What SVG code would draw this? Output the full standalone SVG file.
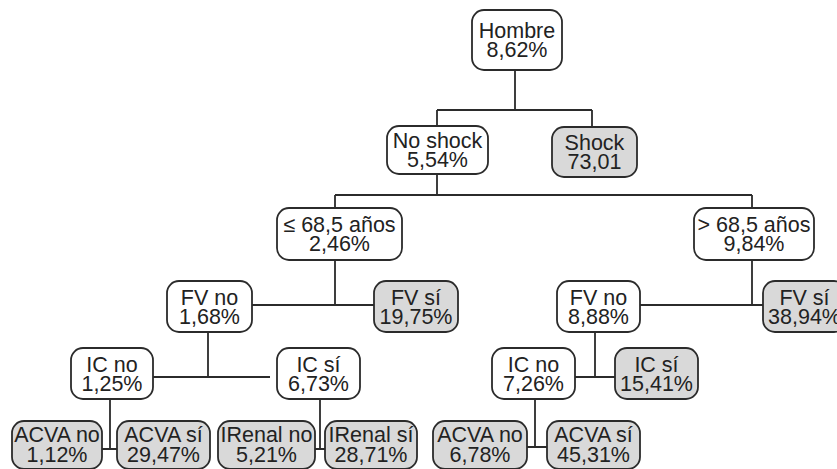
<svg xmlns="http://www.w3.org/2000/svg" width="837" height="469" viewBox="0 0 837 469">
  <style>
    .box { stroke: #2b2b2b; stroke-width: 1.8; }
    .leaf { fill: #ffffff; }
    .term { fill: #d9d9d9; }
    .lbl { font-family: "Liberation Sans", Arial, sans-serif; font-size: 21.5px; fill: #222222; text-anchor: middle; }
    .wire { fill: none; stroke: #2b2b2b; stroke-width: 1.8; }
  </style>
  <rect width="837" height="469" fill="#ffffff"/>

  <!-- tree connectors -->
  <g id="connectors" class="wire">
    <path d="M515 70 V110 M437 110 H592 M437 110 V126 M592 110 V127"/>
    <path d="M437 174 V195 M335 195 H752 M335 195 V208 M752 195 V208"/>
    <path d="M335 260 V305 M252 305 H374"/>
    <path d="M752 260 V305 M640 305 H763"/>
    <path d="M208 332 V377 M153 377 H270"/>
    <path d="M595 332 V377 M575 377 H615"/>
    <path d="M110 399 V449 M102 449 H117"/>
    <path d="M320 399 V449 M315 449 H325"/>
    <path d="M535 399 V447 M527 447 H547"/>
  </g>

  <g id="hombre">
    <rect class="box leaf" x="472" y="10" width="90" height="60" rx="12"/>
    <text class="lbl"><tspan x="517" y="38">Hombre</tspan><tspan x="517" y="57">8,62%</tspan></text>
  </g>
  <g id="no-shock">
    <rect class="box leaf" x="387" y="126" width="101" height="48" rx="12"/>
    <text class="lbl"><tspan x="437.5" y="148">No shock</tspan><tspan x="437.5" y="167">5,54%</tspan></text>
  </g>
  <g id="shock">
    <rect class="box term" x="552" y="127" width="85" height="50" rx="12"/>
    <text class="lbl"><tspan x="594.5" y="150">Shock</tspan><tspan x="594.5" y="169">73,01</tspan></text>
  </g>
  <g id="edad-menor">
    <rect class="box leaf" x="277" y="208" width="125" height="52" rx="12"/>
    <text class="lbl"><tspan x="339.5" y="232">≤ 68,5 años</tspan><tspan x="339.5" y="251">2,46%</tspan></text>
  </g>
  <g id="edad-mayor">
    <rect class="box leaf" x="694" y="208" width="120" height="52" rx="12"/>
    <text class="lbl"><tspan x="754" y="232">&gt; 68,5 años</tspan><tspan x="754" y="251">9,84%</tspan></text>
  </g>
  <g id="fv-no-a">
    <rect class="box leaf" x="167" y="281" width="85" height="51" rx="12"/>
    <text class="lbl"><tspan x="209.5" y="304.5">FV no</tspan><tspan x="209.5" y="323.5">1,68%</tspan></text>
  </g>
  <g id="fv-si-a">
    <rect class="box term" x="374" y="281" width="84" height="51" rx="12"/>
    <text class="lbl"><tspan x="416" y="304.5">FV sí</tspan><tspan x="416" y="323.5">19,75%</tspan></text>
  </g>
  <g id="fv-no-b">
    <rect class="box leaf" x="557" y="281" width="83" height="51" rx="12"/>
    <text class="lbl"><tspan x="598.5" y="304.5">FV no</tspan><tspan x="598.5" y="323.5">8,88%</tspan></text>
  </g>
  <g id="fv-si-b">
    <rect class="box term" x="763" y="281" width="83" height="51" rx="12"/>
    <text class="lbl"><tspan x="804.5" y="304.5">FV sí</tspan><tspan x="804.5" y="323.5">38,94%</tspan></text>
  </g>
  <g id="ic-no-a">
    <rect class="box leaf" x="71" y="348" width="82" height="51" rx="12"/>
    <text class="lbl"><tspan x="112" y="371.5">IC no</tspan><tspan x="112" y="390.5">1,25%</tspan></text>
  </g>
  <g id="ic-si-a">
    <rect class="box leaf" x="277" y="348" width="83" height="51" rx="12"/>
    <text class="lbl"><tspan x="318.5" y="371.5">IC sí</tspan><tspan x="318.5" y="390.5">6,73%</tspan></text>
  </g>
  <g id="ic-no-b">
    <rect class="box leaf" x="492" y="348" width="83" height="51" rx="12"/>
    <text class="lbl"><tspan x="533.5" y="371.5">IC no</tspan><tspan x="533.5" y="390.5">7,26%</tspan></text>
  </g>
  <g id="ic-si-b">
    <rect class="box term" x="615" y="348" width="83" height="51" rx="12"/>
    <text class="lbl"><tspan x="656.5" y="371.5">IC sí</tspan><tspan x="656.5" y="390.5">15,41%</tspan></text>
  </g>
  <g id="acva-no-a">
    <rect class="box term" x="12" y="421" width="90" height="48" rx="12"/>
    <text class="lbl"><tspan x="57" y="442">ACVA no</tspan><tspan x="57" y="462">1,12%</tspan></text>
  </g>
  <g id="acva-si-a">
    <rect class="box term" x="117" y="421" width="93" height="48" rx="12"/>
    <text class="lbl"><tspan x="163.5" y="442">ACVA sí</tspan><tspan x="163.5" y="462">29,47%</tspan></text>
  </g>
  <g id="irenal-no">
    <rect class="box term" x="218" y="421" width="97" height="48" rx="12"/>
    <text class="lbl"><tspan x="266.5" y="442">IRenal no</tspan><tspan x="266.5" y="462">5,21%</tspan></text>
  </g>
  <g id="irenal-si">
    <rect class="box term" x="325" y="421" width="92" height="48" rx="12"/>
    <text class="lbl"><tspan x="371" y="442">IRenal sí</tspan><tspan x="371" y="462">28,71%</tspan></text>
  </g>
  <g id="acva-no-b">
    <rect class="box term" x="433" y="421" width="94" height="48" rx="12"/>
    <text class="lbl"><tspan x="480" y="442">ACVA no</tspan><tspan x="480" y="462">6,78%</tspan></text>
  </g>
  <g id="acva-si-b">
    <rect class="box term" x="547" y="421" width="93" height="48" rx="12"/>
    <text class="lbl"><tspan x="593.5" y="442">ACVA sí</tspan><tspan x="593.5" y="462">45,31%</tspan></text>
  </g>
</svg>
